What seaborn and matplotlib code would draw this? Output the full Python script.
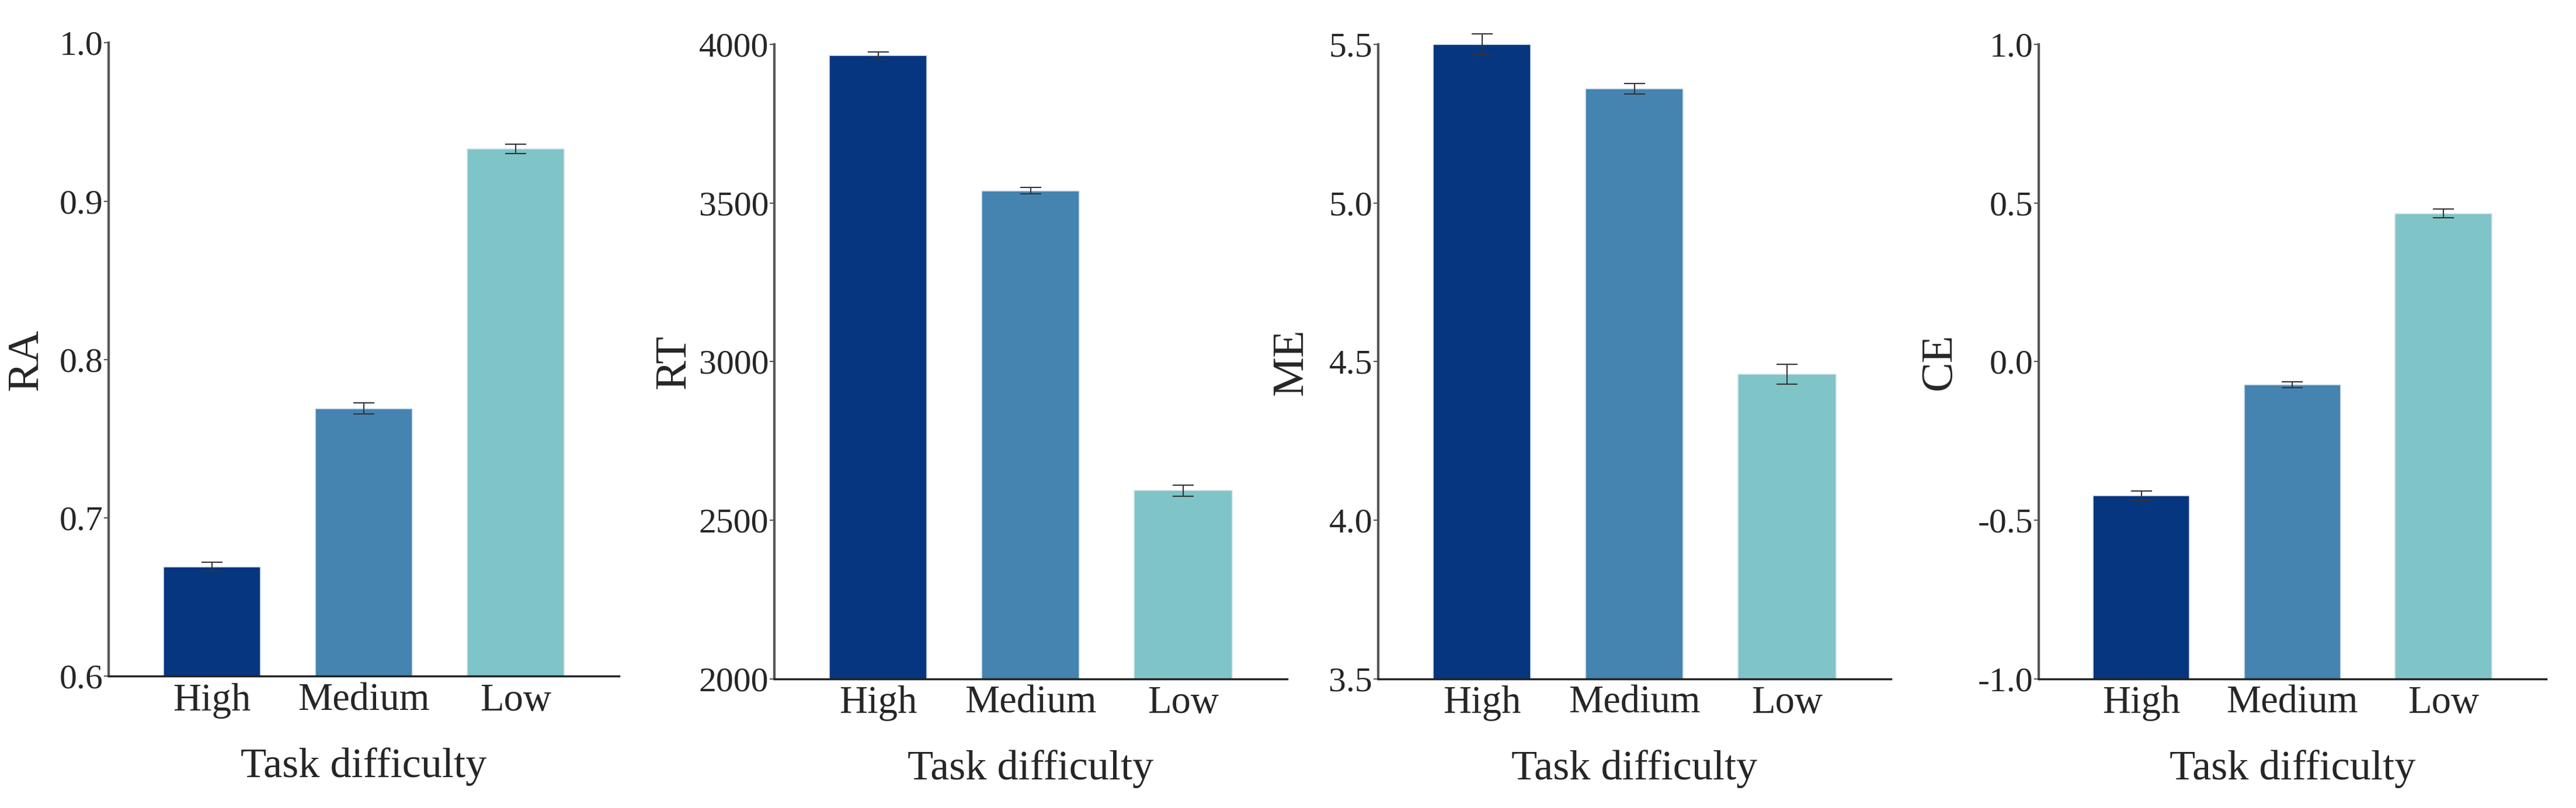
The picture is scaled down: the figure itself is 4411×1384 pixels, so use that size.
"""
Four bar charts of task performance (RA, RT, ME, CE) by task difficulty,
with standard error bars.
"""

import pandas as pd
import matplotlib
matplotlib.use("Agg")
import matplotlib.pyplot as plt
import seaborn as sns


# categories on the x axis
difficulty = ["High", "Medium", "Low"]

# response accuracy
ra_mean = [0.669, 0.769, 0.933]
ra_err = [0.003, 0.0035, 0.003]

# response time
rt_mean = [3965, 3539, 2593]
rt_err = [12, 10, 18]

# mental effort
me_mean = [5.50, 5.36, 4.46]
me_err = [0.033, 0.017, 0.031]

# combined efficiency
ce_mean = [-0.423, -0.073, 0.467]
ce_err = [0.015, 0.010, 0.014]

# y axis ticks for each panel
ra_ticks = [0.6, 0.7, 0.8, 0.9, 1.0]
rt_ticks = [2000, 2500, 3000, 3500, 4000]
me_ticks = [3.5, 4.0, 4.5, 5.0, 5.5]
ce_ticks = [-1.0, -0.5, 0.0, 0.5, 1.0]

bar_colors = ["#073680", "#4584b0", "#7fc4c6"]


def draw_panel(ax, means, errs, ticks, ylabel, fmt, label_offset):
    """Draw one bar panel with error bars on the given axes"""

    df = pd.DataFrame({"Task difficulty": difficulty, ylabel: means})
    sns.barplot(data=df, x="Task difficulty", y=ylabel, hue="Task difficulty",
                palette=bar_colors, saturation=1, legend=False, width=0.64,
                ax=ax, errorbar=None, edgecolor="#d8e4f0", linewidth=1.2)

    # bars start at the bottom of the axis, not at zero
    lo = ticks[0]
    for p in ax.patches:
        top = p.get_y() + p.get_height()
        p.set_y(lo)
        p.set_height(top - lo)

    eb = ax.errorbar(x=range(len(difficulty)), y=means, yerr=errs, fmt="none",
                     ecolor="#333333", elinewidth=1.5, capsize=13,
                     capthick=1.5)
    for line in eb.lines[1] + eb.lines[2]:
        line.set_clip_on(False)

    ax.set_ylim(ticks[0], ticks[-1])
    ax.set_xlim(-0.68, 2.68)
    ax.set_yticks(ticks)
    ax.set_yticklabels([fmt.format(t) for t in ticks])

    sns.despine(ax=ax)
    ax.spines["left"].set_color("#555555")
    ax.spines["bottom"].set_color("#222222")
    ax.spines["left"].set_linewidth(3)
    ax.spines["bottom"].set_linewidth(2.5)

    ax.tick_params(axis="y", length=6, width=1.5, color="#555555",
                   labelsize=43, pad=1)
    ax.tick_params(axis="x", length=0, labelsize=48, pad=8)

    ax.set_ylabel(ylabel, fontsize=55)
    ax.set_xlabel("Task difficulty", fontsize=52, labelpad=36)

    # place the y label a fixed pixel distance left of the axis
    width_px = ax.get_position().width * 4411
    ax.yaxis.set_label_coords(-label_offset / width_px, 0.5)


if __name__ == "__main__":

    sns.set_style("ticks")
    plt.rcParams["font.family"] = ["Liberation Serif", "DejaVu Serif"]
    plt.rcParams["axes.unicode_minus"] = False

    fig = plt.figure(figsize=(44.11, 13.84), dpi=100)

    ax1 = fig.add_axes([0.0422, 0.163, 0.198, 0.784])
    ax2 = fig.add_axes([0.3006, 0.160, 0.199, 0.785])
    ax3 = fig.add_axes([0.5350, 0.160, 0.199, 0.785])
    ax4 = fig.add_axes([0.7914, 0.160, 0.197, 0.785])

    draw_panel(ax1, ra_mean, ra_err, ra_ticks, "RA", "{:.1f}", 106)
    draw_panel(ax2, rt_mean, rt_err, rt_ticks, "RT", "{:.0f}", 137)
    draw_panel(ax3, me_mean, me_err, me_ticks, "ME", "{:.1f}", 114)
    draw_panel(ax4, ce_mean, ce_err, ce_ticks, "CE", "{:.1f}", 135)

    fig.savefig("out.png", dpi=100, facecolor="white")
